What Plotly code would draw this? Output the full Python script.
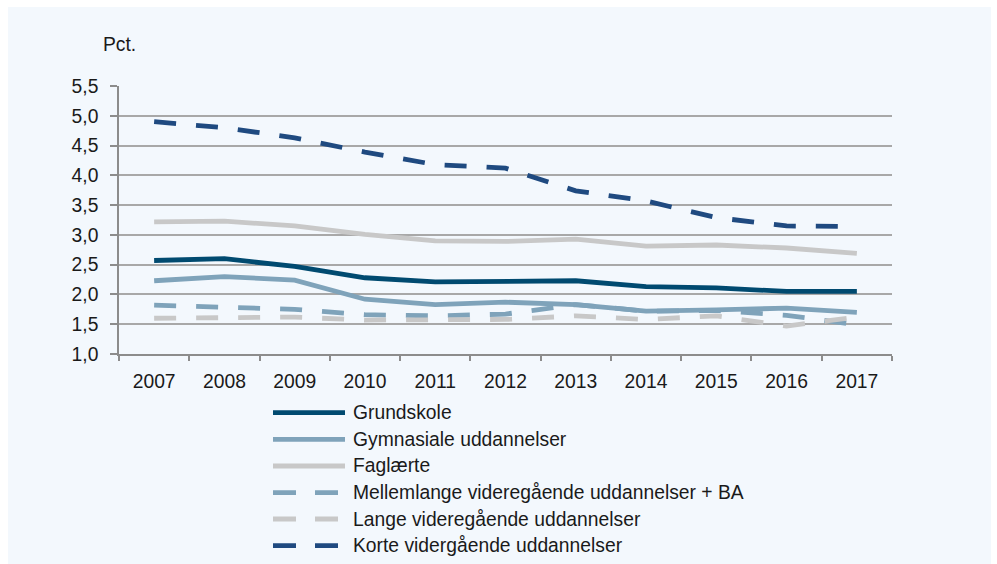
import plotly.graph_objects as go

# ---- data ----
years = ["2007", "2008", "2009", "2010", "2011", "2012", "2013", "2014", "2015", "2016", "2017"]
grundskole = [2.57, 2.60, 2.47, 2.28, 2.21, 2.23, 2.23, 2.13, 2.11, 2.05, 2.05]
gymnasiale = [2.23, 2.30, 2.24, 1.92, 1.83, 1.87, 1.83, 1.72, 1.74, 1.77, 1.70]
faglaerte = [3.22, 3.23, 3.15, 3.01, 2.90, 2.89, 2.93, 2.81, 2.83, 2.78, 2.69]
mellemlange = [1.82, 1.79, 1.75, 1.66, 1.64, 1.67, 1.83, 1.72, 1.73, 1.65, 1.49]
lange = [1.60, 1.62, 1.62, 1.57, 1.57, 1.58, 1.64, 1.58, 1.64, 1.47, 1.62]
korte = [4.90, 4.80, 4.63, 4.39, 4.18, 4.12, 3.74, 3.57, 3.29, 3.15, 3.14]

series_names = [
    "Grundskole",
    "Gymnasiale uddannelser",
    "Faglærte",
    "Mellemlange videregående uddannelser + BA",
    "Lange videregående uddannelser",
    "Korte vidergående uddannelser",
]
series_values = [grundskole, gymnasiale, faglaerte, mellemlange, lange, korte]
y_tick_values = [1.0, 1.5, 2.0, 2.5, 3.0, 3.5, 4.0, 4.5, 5.0, 5.5]

# ---- styles ----
colors = ["#004A70", "#7FA3BA", "#C8C8C8", "#7FA3BA", "#C8C8C8", "#1F4A80"]
dashes = ["solid", "solid", "solid", "22px,20px", "22px,20px", "22px,20px"]

W, H = 997, 564
L, R, T, B = 119, 105, 86, 210
PW, PH = W - L - R, H - T - B
FONT = "Liberation Sans"
FS = 19.3
TXT = "#1a1a1a"
AXC = "#8C8C8C"
GRIDC = "#A8A8A8"
LW = 4.8


def px_x(p):
    return (p - L) / PW


def px_y(p):
    return (H - B - p) / PH


fig = go.Figure()
for name, vals, c, d in zip(series_names, series_values, colors, dashes):
    fig.add_trace(go.Scatter(
        x=years, y=vals, mode="lines", name=name,
        line=dict(color=c, width=LW, dash=d),
        showlegend=False, hoverinfo="x+y+name",
    ))

shapes = [
    dict(type="rect", xref="paper", yref="paper", layer="below",
         x0=px_x(8), x1=px_x(991), y0=px_y(570), y1=px_y(7),
         fillcolor="#F3F8FD", line=dict(width=0)),
]
annotations = [
    dict(text="Pct.", xref="paper", yref="paper", x=px_x(101), y=px_y(44),
         xanchor="left", yanchor="middle", showarrow=False,
         font=dict(family=FONT, size=FS, color=TXT)),
]

# manual legend (long line samples as in the original)
row_y = [412.7, 439.3, 466.0, 492.7, 519.0, 545.6]
for name, c, d, ry in zip(series_names, colors, dashes, row_y):
    x_end = 345 if d == "solid" else 338
    shapes.append(dict(type="line", xref="paper", yref="paper",
                       x0=px_x(273), x1=px_x(x_end), y0=px_y(ry), y1=px_y(ry),
                       line=dict(color=c, width=LW,
                                 dash="solid" if d == "solid" else "23px,19px")))
    annotations.append(dict(text=name, xref="paper", yref="paper",
                            x=px_x(351), y=px_y(ry), xanchor="left", yanchor="middle",
                            showarrow=False,
                            font=dict(family=FONT, size=FS, color=TXT)))

yaxis_common = dict(
    range=[1.0, 5.5], tickmode="array", tickvals=y_tick_values, tickformat=".1f",
    ticks="outside", ticklen=7, tickcolor=AXC, tickwidth=1.5,
    showline=True, linecolor=AXC, linewidth=1.5,
    zeroline=False, ticklabelstandoff=8,
    tickfont=dict(family=FONT, size=FS, color=TXT), fixedrange=True,
)

fig.update_layout(
    width=W, height=H,
    margin=dict(l=L, r=R, t=T, b=B, pad=0),
    paper_bgcolor="white", plot_bgcolor="white",
    separators=",.",
    showlegend=False,
    font=dict(family=FONT, size=FS, color=TXT),
    xaxis=dict(
        type="category", range=[-0.5, 10.5], tickson="boundaries",
        ticks="outside", ticklen=5, tickcolor=AXC, tickwidth=1.5,
        showline=True, linecolor=AXC, linewidth=1.5, showgrid=False,
        tickfont=dict(family=FONT, size=FS, color=TXT), ticklabelstandoff=9,
        fixedrange=True,
    ),
    yaxis=dict(showgrid=True, gridcolor=GRIDC, gridwidth=1.5, side="left", **yaxis_common),
    yaxis2=dict(overlaying="y", side="right", showgrid=False, **yaxis_common),
    shapes=shapes,
    annotations=annotations,
)

fig.write_html(
    "out.html",
    config={"displayModeBar": False},
    post_script="document.body.style.margin='0';document.body.style.overflow='hidden';",
)
